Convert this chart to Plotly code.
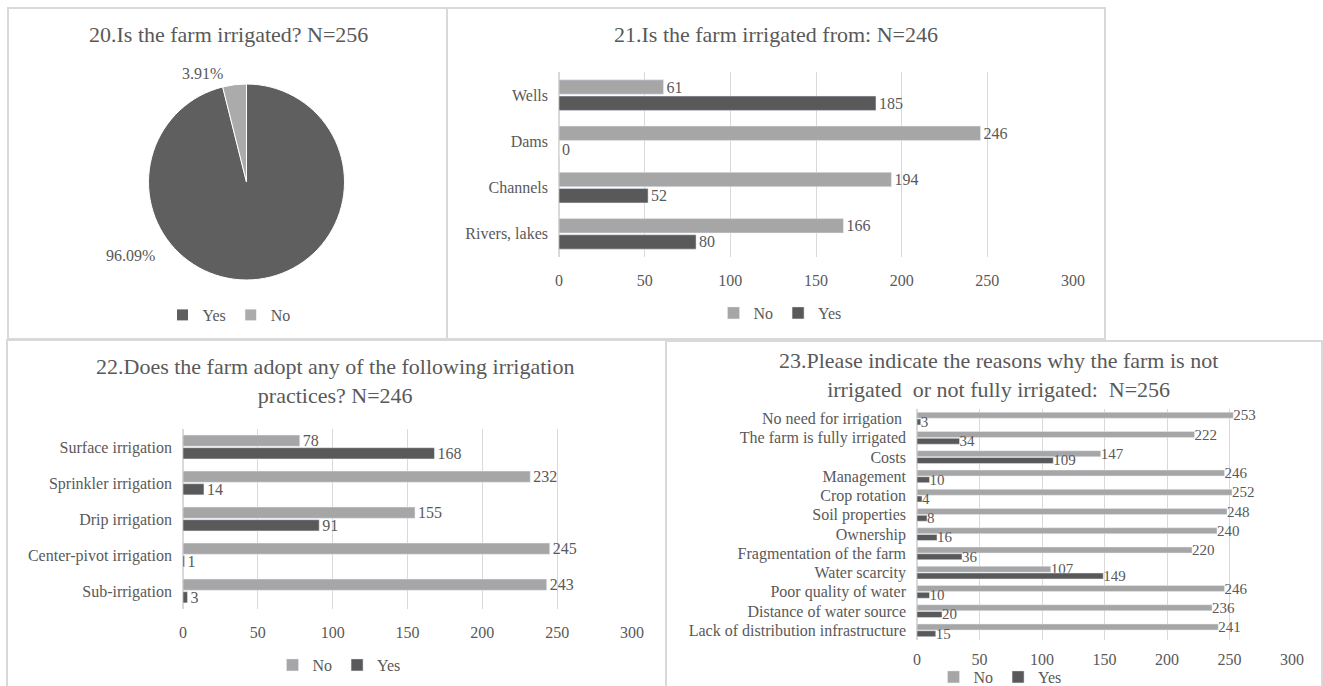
import plotly.graph_objects as go

W, H = 1323, 686

# Q20: is the farm irrigated?
pie_labels = ["Yes", "No"]
pie_values = [246, 10]

# Q21: irrigation source
src_cats = ["Wells", "Dams", "Channels", "Rivers, lakes"]
src_no = [61, 246, 194, 166]
src_yes = [185, 0, 52, 80]

# Q22: irrigation practices
prac_cats = ["Surface irrigation", "Sprinkler irrigation", "Drip irrigation",
             "Center-pivot irrigation", "Sub-irrigation"]
prac_no = [78, 232, 155, 245, 243]
prac_yes = [168, 14, 91, 1, 3]

# Q23: reasons for not (fully) irrigating
reason_cats = ["No need for irrigation ", "The farm is fully irrigated", "Costs",
               "Management", "Crop rotation", "Soil properties", "Ownership",
               "Fragmentation of the farm", "Water scarcity", "Poor quality of water",
               "Distance of water source", "Lack of distribution infrastructure"]
reason_no = [253, 222, 147, 246, 252, 248, 240, 220, 107, 246, 236, 241]
reason_yes = [3, 34, 109, 10, 4, 8, 16, 36, 149, 10, 20, 15]

axis_ticks = [0, 50, 100, 150, 200, 250, 300]

FONT = "Liberation Serif"
TXT = "#595959"
LIGHT = "#a6a6a6"
DARK = "#595959"
GRID = "#d9d9d9"


def fx(px):
    return px / W


def fy(py):
    return 1 - py / H


fig = go.Figure()

# ---- pie ----
total = sum(pie_values)
fig.add_trace(go.Pie(
    labels=pie_labels, values=pie_values, sort=False, direction="clockwise",
    rotation=0, textinfo="none", hoverinfo="label+percent",
    marker=dict(colors=["#5f5f5f", "#ababab"], line=dict(color="white", width=1)),
    domain=dict(x=[fx(148.5), fx(344.5)], y=[fy(280), fy(84)]),
    legend="legend", showlegend=True,
))
# percentage labels: (right edge x, centre y)
pie_label_pos = [(157, 256), (225, 73)]
for (lx, ly), v in zip(pie_label_pos, pie_values):
    fig.add_annotation(x=fx(lx), y=fy(ly), xref="paper", yref="paper",
                       xanchor="right", yanchor="middle",
                       text=f"{v / total * 100:.2f}%", showarrow=False,
                       font=dict(family=FONT, size=16, color=TXT))


def add_pair(cats, no, yes, ax, leg, width, lab_size):
    fig.add_trace(go.Bar(
        y=cats, x=no, name="No", orientation="h", marker_color=LIGHT,
        width=width, offset=-width - 0.02, text=no, textposition="outside",
        constraintext="none", cliponaxis=False,
        textfont=dict(family=FONT, size=lab_size, color=TXT),
        xaxis="x" + ax, yaxis="y" + ax, legend=leg,
    ))
    fig.add_trace(go.Bar(
        y=cats, x=yes, name="Yes", orientation="h", marker_color=DARK,
        width=width, offset=0.02, text=yes, textposition="outside",
        constraintext="none", cliponaxis=False,
        textfont=dict(family=FONT, size=lab_size, color=TXT),
        xaxis="x" + ax, yaxis="y" + ax, legend=leg,
    ))


add_pair(src_cats, src_no, src_yes, "2", "legend2", 0.31, 16)
add_pair(prac_cats, prac_no, prac_yes, "3", "legend3", 0.31, 16)
add_pair(reason_cats, reason_no, reason_yes, "4", "legend4", 0.31, 15)


def xax(x0, x1, y, tick_size, standoff):
    return dict(domain=[fx(x0), fx(x1)], anchor=y, range=[0, 300],
                tickvals=axis_ticks, showgrid=True, gridcolor=GRID, gridwidth=1,
                zeroline=True, zerolinecolor=GRID, showline=False, ticks="",
                ticklabelstandoff=standoff, fixedrange=True,
                tickfont=dict(family=FONT, size=tick_size, color=TXT))


def yax(y0, y1, x, size):
    return dict(domain=[fy(y1), fy(y0)], anchor=x, type="category",
                autorange="reversed", showgrid=False, zeroline=False,
                showline=False, ticks="", ticklabelstandoff=10,
                tickfont=dict(family=FONT, size=size, color=TXT))


def leg(x, y):
    return dict(x=fx(x), y=fy(y), xanchor="center", yanchor="middle",
                orientation="h", itemwidth=30,
                font=dict(family=FONT, size=16, color=TXT),
                bgcolor="rgba(0,0,0,0)")


titles = [
    (228, 35, "20.Is the farm irrigated? N=256"),
    (776, 35, "21.Is the farm irrigated from: N=246"),
    (335, 381, "22.Does the farm adopt any of the following irrigation<br>practices? N=246"),
    (998, 375, "23.Please indicate the reasons why the farm is not<br>irrigated  or not fully irrigated:  N=256"),
]
for tx, ty, t in titles:
    fig.add_annotation(x=fx(tx), y=fy(ty), xref="paper", yref="paper", text=t,
                       showarrow=False, xanchor="center", yanchor="middle",
                       font=dict(family=FONT, size=22, color=TXT))

panels = [(8, 8, 447, 339), (447, 8, 1105, 339), (7, 340, 666, 690), (666, 341, 1322, 690)]
shapes = [dict(type="rect", xref="paper", yref="paper", x0=fx(a), x1=fx(c),
               y0=fy(d), y1=fy(b), line=dict(color=GRID, width=2), layer="below")
          for a, b, c, d in panels]

fig.update_layout(
    width=W, height=H, margin=dict(l=0, r=0, t=0, b=0, autoexpand=False),
    paper_bgcolor="white", plot_bgcolor="white", barmode="overlay",
    shapes=shapes,
    xaxis2=xax(559, 1073, "y2", 16, 12), yaxis2=yax(72, 257, "x2", 16),
    xaxis3=xax(183, 632, "y3", 16, 12), yaxis3=yax(429, 609, "x3", 16),
    xaxis4=xax(917, 1292, "y4", 16, 8), yaxis4=yax(409, 640, "x4", 16),
    legend=leg(229, 315), legend2=leg(780, 313),
    legend3=leg(339, 665), legend4=leg(1000, 677),
)

fig.write_html("out.html")
